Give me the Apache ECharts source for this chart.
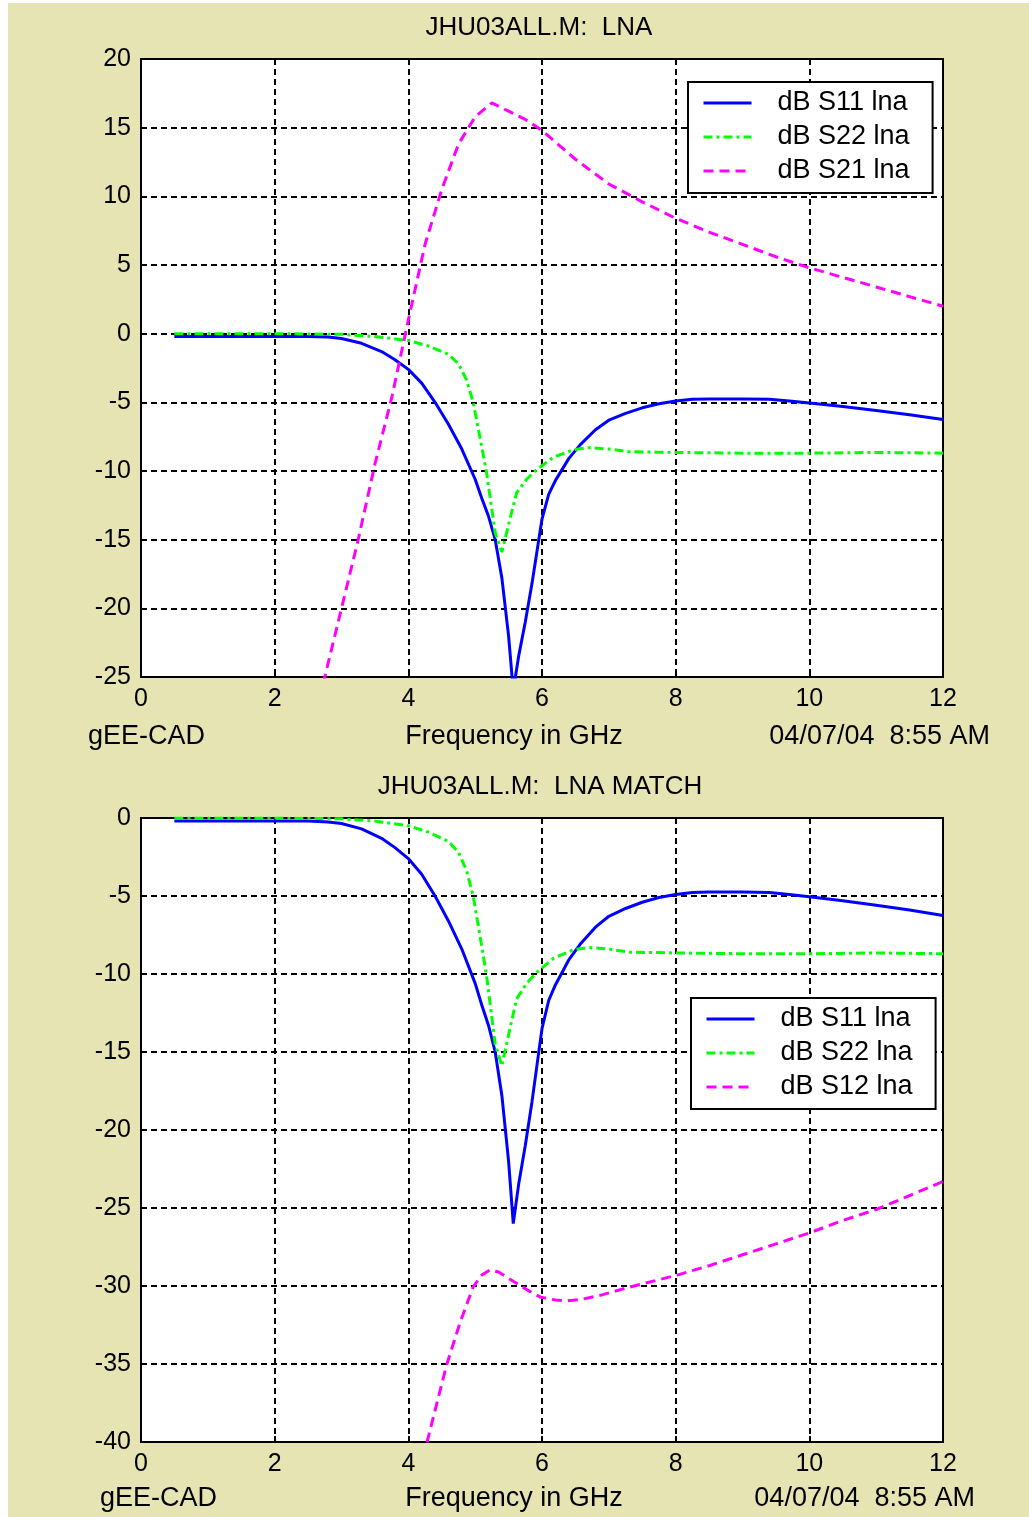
<!DOCTYPE html>
<html>
<head>
<meta charset="utf-8">
<script src="https://cdn.jsdelivr.net/npm/echarts@6/dist/echarts.min.js"></script>
<style>
html,body{margin:0;padding:0;background:#ffffff;}
#chart{width:1029px;height:1517px;}
</style>
</head>
<body>
<div id="chart"></div>
<script>
// ---- data ----
var xTicks = [0, 2, 4, 6, 8, 10, 12];
var yTicksTop = [-25, -20, -15, -10, -5, 0, 5, 10, 15, 20];
var yTicksBottom = [-40, -35, -30, -25, -20, -15, -10, -5, 0];

var s11Freq = [0.5, 1.0, 1.5, 2.0, 2.5, 2.8, 3.0, 3.3, 3.6, 3.8, 4.0, 4.2, 4.4, 4.6, 4.8, 5.0, 5.1, 5.2, 5.3, 5.4, 5.5, 5.57, 5.65, 5.75, 5.85, 5.92, 6.0, 6.1, 6.2, 6.4, 6.57, 6.8, 7.0, 7.25, 7.5, 7.75, 8.0, 8.25, 8.5, 9.0, 9.4, 9.7, 10.0, 10.5, 11.0, 11.5, 12.0];
var s11Db   = [-0.2, -0.2, -0.2, -0.2, -0.2, -0.25, -0.35, -0.7, -1.3, -1.9, -2.6, -3.6, -5.0, -6.6, -8.4, -10.6, -12.0, -13.3, -15.0, -17.8, -22.0, -26.0, -23.5, -21.0, -18.2, -16.0, -13.5, -11.7, -10.7, -9.1, -8.1, -7.0, -6.3, -5.8, -5.4, -5.1, -4.9, -4.78, -4.75, -4.75, -4.78, -4.9, -5.05, -5.3, -5.6, -5.9, -6.25];

var s22Freq = [0.5, 1.0, 2.0, 3.0, 3.5, 4.0, 4.3, 4.6, 4.75, 4.87, 4.97, 5.07, 5.17, 5.3, 5.4, 5.52, 5.62, 5.77, 5.92, 6.17, 6.47, 6.7, 7.0, 7.3, 8.0, 9.0, 10.0, 11.0, 12.0];
var s22Db   = [0, 0, 0, -0.05, -0.2, -0.5, -0.9, -1.5, -2.2, -3.35, -5.0, -7.5, -10.1, -14.5, -15.9, -13.5, -11.6, -10.6, -9.9, -9.0, -8.45, -8.3, -8.4, -8.6, -8.65, -8.7, -8.7, -8.65, -8.7];

var s21Freq = [2.5, 2.75, 3.0, 3.25, 3.5, 3.75, 4.0, 4.25, 4.5, 4.75, 5.0, 5.25, 5.5, 5.75, 6.0, 6.5, 7.0, 7.5, 8.0, 8.5, 9.0, 9.5, 10.0, 10.5, 11.0, 11.5, 12.0];
var s21Db   = [-30, -25, -20, -15, -9.5, -4.7, 1.0, 6.5, 10.5, 13.8, 15.8, 16.8, 16.2, 15.6, 14.8, 12.7, 10.9, 9.6, 8.4, 7.4, 6.5, 5.6, 4.8, 4.1, 3.4, 2.7, 2.0];

var s12Freq = [4.1, 4.28, 4.57, 4.77, 4.97, 5.1, 5.22, 5.35, 5.57, 5.8, 5.97, 6.2, 6.37, 6.6, 6.87, 7.2, 7.47, 8.02, 8.5, 9.0, 9.5, 10.0, 10.5, 11.0, 11.5, 12.0];
var s12Db   = [-43, -40, -35.1, -32.4, -30.05, -29.3, -28.97, -29.1, -29.7, -30.3, -30.7, -30.9, -30.95, -30.85, -30.6, -30.2, -29.9, -29.3, -28.7, -28.0, -27.3, -26.6, -25.8, -25.1, -24.2, -23.3];

var legendTop = ['dB S11 lna', 'dB S22 lna', 'dB S21 lna'];
var legendBottom = ['dB S11 lna', 'dB S22 lna', 'dB S12 lna'];

// ---- build chart ----
function pairs(xs, ys) { return xs.map(function (x, i) { return [x, ys[i]]; }); }

var FONT = '"Liberation Sans", Arial, sans-serif';
var BG = '#e7e4b4';

function xAxisFor(idx) {
  return {
    type: 'value', gridIndex: idx, min: xTicks[0], max: xTicks[xTicks.length - 1], interval: xTicks[1] - xTicks[0],
    axisLine: { show: true, onZero: false, lineStyle: { color: '#000', width: 2 } },
    axisTick: { show: true, inside: true, length: 6, lineStyle: { color: '#000', width: 2 } },
    axisLabel: { color: '#000', fontSize: 25, fontFamily: FONT, margin: 10 },
    splitLine: { show: true, lineStyle: { color: '#000', type: [6, 4], width: 2 } }
  };
}
function yAxisFor(idx, ticks) {
  return {
    type: 'value', gridIndex: idx, min: ticks[0], max: ticks[ticks.length - 1], interval: ticks[1] - ticks[0],
    axisLine: { show: true, onZero: false, lineStyle: { color: '#000', width: 2 } },
    axisTick: { show: true, inside: true, length: 6, lineStyle: { color: '#000', width: 2 } },
    axisLabel: { color: '#000', fontSize: 25, fontFamily: FONT, margin: 10 },
    splitLine: { show: true, lineStyle: { color: '#000', type: [6, 4], width: 2 } }
  };
}
function line(name, idx, xs, ys, color, type) {
  return {
    name: name, type: 'line', xAxisIndex: idx, yAxisIndex: idx,
    data: pairs(xs, ys), symbol: 'none', showSymbol: false, smooth: false, clip: true,
    lineStyle: { color: color, width: 3, type: type }, itemStyle: { color: color },
    emphasis: { disabled: true }, animation: false, z: 3
  };
}
function legendFor(names, left, top) {
  return {
    data: names, orient: 'vertical', left: left, top: top,
    backgroundColor: '#fff', borderColor: '#000', borderWidth: 2, borderRadius: 0,
    padding: [7, 23, 8, 14], itemGap: 6, itemWidth: 48, itemHeight: 14,
    itemStyle: { opacity: 0, borderWidth: 0 },
    lineStyle: { width: 3 },
    textStyle: { color: '#000', fontSize: 27, fontFamily: FONT, lineHeight: 28, padding: [0, 0, 0, 21] },
    selectedMode: false
  };
}
function txt(x, y, s, align, size) {
  return { type: 'text', x: x, y: y, silent: true,
    style: { text: s, fill: '#000', font: size + 'px ' + FONT, textAlign: align, textVerticalAlign: 'middle' } };
}

var option = {
  backgroundColor: BG,
  animation: false,
  grid: [
    { left: 141, top: 59, width: 802, height: 618, show: true, backgroundColor: '#fff', borderColor: '#000', borderWidth: 2 },
    { left: 141, top: 818, width: 802, height: 624, show: true, backgroundColor: '#fff', borderColor: '#000', borderWidth: 2 }
  ],
  xAxis: [xAxisFor(0), xAxisFor(1)],
  yAxis: [yAxisFor(0, yTicksTop), yAxisFor(1, yTicksBottom)],
  legend: [legendFor(legendTop, 688, 82), legendFor(legendBottom, 691, 998)],
  series: [
    line('dB S11 lna', 0, s11Freq, s11Db, '#0000ff', 'solid'),
    line('dB S22 lna', 0, s22Freq, s22Db, '#00ff00', [9, 4, 3, 4]),
    line('dB S21 lna', 0, s21Freq, s21Db, '#ff00ff', [10, 6]),
    line('dB S11 lna', 1, s11Freq, s11Db, '#0000ff', 'solid'),
    line('dB S22 lna', 1, s22Freq, s22Db, '#00ff00', [9, 4, 3, 4]),
    line('dB S12 lna', 1, s12Freq, s12Db, '#ff00ff', [10, 6])
  ],
  graphic: [
    { type: 'rect', shape: { x: 0, y: 0, width: 8, height: 1517 }, style: { fill: '#fff' }, silent: true },
    { type: 'rect', shape: { x: 0, y: 0, width: 1029, height: 3 }, style: { fill: '#fff' }, silent: true },
    txt(539, 28, 'JHU03ALL.M:  LNA', 'center', 26),
    txt(88, 737, 'gEE-CAD', 'left', 27),
    txt(514, 737, 'Frequency in GHz', 'center', 27),
    txt(990, 737, '04/07/04  8:55 AM', 'right', 27),
    txt(540, 787, 'JHU03ALL.M:  LNA MATCH', 'center', 26),
    txt(100, 1499, 'gEE-CAD', 'left', 27),
    txt(514, 1499, 'Frequency in GHz', 'center', 27),
    txt(975, 1499, '04/07/04  8:55 AM', 'right', 27)
  ]
};

var chart = echarts.init(document.getElementById('chart'), null, { renderer: 'canvas' });
chart.setOption(option);
</script>
</body>
</html>
